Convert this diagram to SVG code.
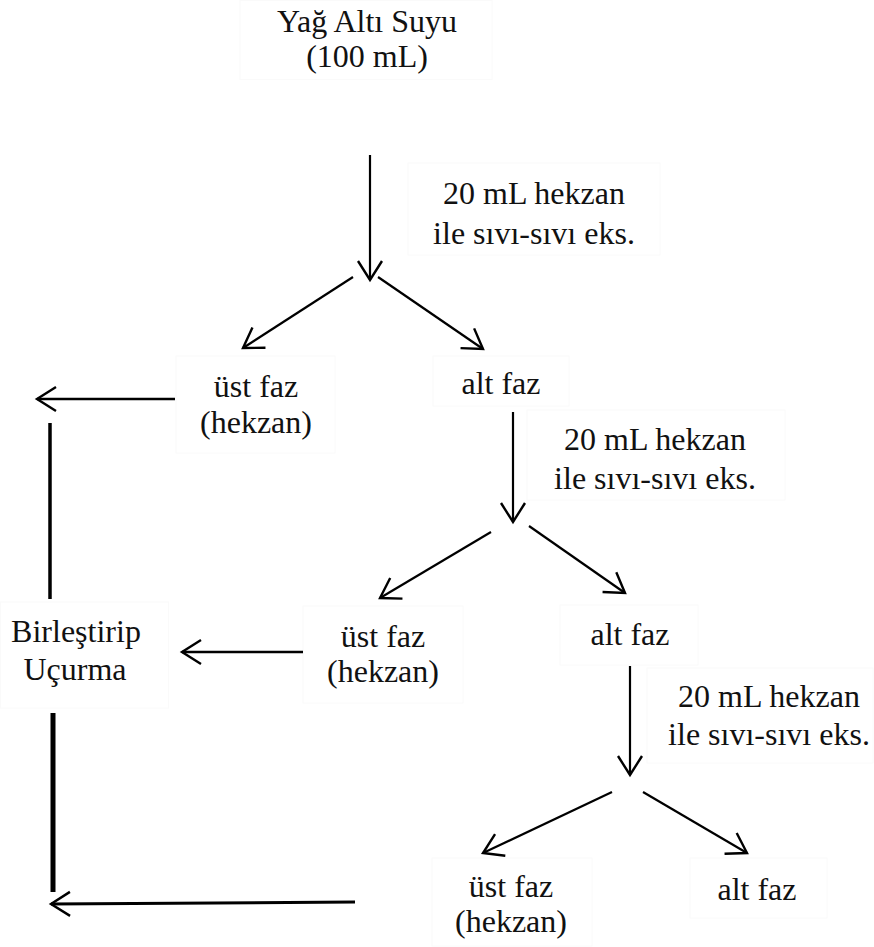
<svg xmlns="http://www.w3.org/2000/svg" width="874" height="947" viewBox="0 0 874 947" font-family="'Liberation Serif', 'DejaVu Serif', serif">
  <style>
    text { font-family: "Liberation Serif", "DejaVu Serif", serif; font-size: 32px; fill: #111; text-anchor: middle; }
    .frame { fill: none; stroke: #fafafa; stroke-width: 1; }
    .arrow { fill: none; stroke: #000; stroke-width: 2.2; marker-end: url(#head); }
    .bar { fill: none; stroke: #000; }
  </style>
  <defs>
    <marker id="head" markerUnits="userSpaceOnUse" markerWidth="40" markerHeight="40" viewBox="-25 -20 40 40" refX="0" refY="0" orient="auto" overflow="visible">
      <path d="M-19,-12 L0,0 L-19,12" fill="none" stroke="#000" stroke-width="2.4" stroke-linejoin="miter"/>
    </marker>
  </defs>
  <rect width="874" height="947" fill="#fff"/>

  <g id="source">
    <rect class="frame" x="240" y="0.5" width="252" height="79"/>
    <text x="367" y="32">Yağ Altı Suyu</text>
    <text x="367" y="67">(100 mL)</text>
  </g>

  <g id="step1-label">
    <rect class="frame" x="408" y="163" width="252" height="92"/>
    <text x="534" y="204">20 mL hekzan</text>
    <text x="534" y="244">ile sıvı-sıvı eks.</text>
  </g>

  <g id="upper1">
    <rect class="frame" x="176" y="356" width="159" height="97"/>
    <text x="256" y="397">üst faz</text>
    <text x="256" y="433">(hekzan)</text>
  </g>

  <g id="lower1">
    <rect class="frame" x="433" y="356" width="136" height="50"/>
    <text x="501" y="394">alt faz</text>
  </g>

  <g id="step2-label">
    <rect class="frame" x="527" y="410" width="258" height="90"/>
    <text x="655" y="450">20 mL hekzan</text>
    <text x="655" y="489">ile sıvı-sıvı eks.</text>
  </g>

  <g id="combine">
    <rect class="frame" x="0.5" y="602" width="168" height="106"/>
    <text x="76" y="642">Birleştirip</text>
    <text x="75" y="680">Uçurma</text>
  </g>

  <g id="upper2">
    <rect class="frame" x="303" y="606" width="160" height="97"/>
    <text x="383" y="647">üst faz</text>
    <text x="383" y="682">(hekzan)</text>
  </g>

  <g id="lower2">
    <rect class="frame" x="560" y="605" width="138" height="60"/>
    <text x="630" y="645">alt faz</text>
  </g>

  <g id="step3-label">
    <rect class="frame" x="647" y="668" width="226" height="95"/>
    <text x="769" y="707">20 mL hekzan</text>
    <text x="769" y="745">ile sıvı-sıvı eks.</text>
  </g>

  <g id="upper3">
    <rect class="frame" x="432" y="858" width="160" height="88"/>
    <text x="511" y="897">üst faz</text>
    <text x="511" y="932">(hekzan)</text>
  </g>

  <g id="lower3">
    <rect class="frame" x="690" y="858" width="137" height="60"/>
    <text x="757" y="900">alt faz</text>
  </g>

  <g id="connectors">
    <!-- extraction steps -->
    <line class="arrow" x1="370" y1="155" x2="370" y2="280"/>
    <line class="arrow" x1="353" y1="277" x2="243" y2="348"/>
    <line class="arrow" x1="378" y1="277" x2="483" y2="349"/>

    <line class="arrow" x1="513" y1="412" x2="513" y2="522"/>
    <line class="arrow" x1="491" y1="532" x2="380" y2="598"/>
    <line class="arrow" x1="529" y1="526" x2="625" y2="593"/>

    <line class="arrow" x1="630" y1="666" x2="630" y2="775"/>
    <line class="arrow" x1="612" y1="792" x2="483" y2="853"/>
    <line class="arrow" x1="643" y1="792" x2="747" y2="853"/>

    <!-- hexane phases collected on the left -->
    <line class="arrow" x1="175" y1="399" x2="37" y2="399" style="stroke-width:2.6"/>
    <line class="bar" x1="50" y1="423" x2="50" y2="599" stroke-width="3.5"/>
    <line class="arrow" x1="303" y1="652" x2="182" y2="652" style="stroke-width:2.6"/>
    <line class="bar" x1="53" y1="713" x2="53" y2="892" stroke-width="5"/>
    <line class="arrow" x1="355" y1="902" x2="51" y2="904" style="stroke-width:3"/>
  </g>
</svg>
